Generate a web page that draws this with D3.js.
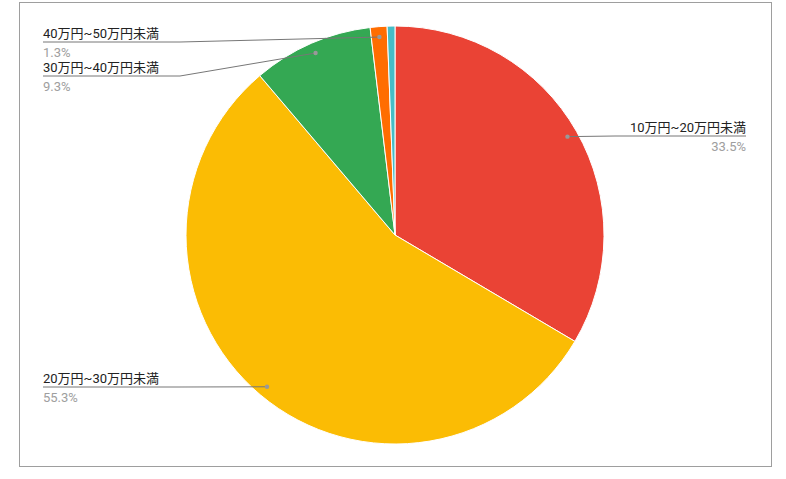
<!DOCTYPE html>
<meta charset="UTF-8">
<style>body{margin:0;background:#fff} *{font-family:Roboto,'Noto Sans CJK JP',sans-serif}</style>
<svg width="786" height="479"></svg>
<script src="https://d3js.org/d3.v7.min.js"></script>
<script>
var labels = ["10万円~20万円未満", "20万円~30万円未満", "30万円~40万円未満", "40万円~50万円未満", "50万円以上"];
var values = [33.5, 55.3, 9.3, 1.3, 0.6];
var colors = ["#ea4335", "#fbbc04", "#34a853", "#ff6d01", "#46bdc6"];
// label placement: side, text x, underline y, underline end x
var place = [
  {side: "right", x: 746, y: 136, x2: 615},
  {side: "left", x: 43, y: 387, x2: 180},
  {side: "left", x: 43, y: 76, x2: 180},
  {side: "left", x: 43, y: 42, x2: 180},
  null
];

var svg = d3.select("svg");
svg.append("rect").attr("x", 19.5).attr("y", 2.5).attr("width", 752).attr("height", 464)
  .attr("fill", "none").attr("stroke", "#9e9e9e");

var cx = 395, cy = 235, r = 209;
var g = svg.append("g").attr("transform", "translate(" + cx + "," + cy + ")");
var pie = d3.pie().sort(null).value(function(d) { return d; });
var arcs = pie(values);
var arc = d3.arc().innerRadius(0).outerRadius(r);
var dotArc = d3.arc().innerRadius(r * 0.95).outerRadius(r * 0.95);

g.selectAll("path").data(arcs).enter().append("path")
  .attr("d", arc).attr("fill", function(d, i) { return colors[i]; })
  .attr("stroke", "#fff").attr("stroke-width", 1);

arcs.forEach(function(d, i) {
  var p = place[i];
  if (!p) return;
  var c = dotArc.centroid(d);
  var dx = c[0] + cx, dy = c[1] + cy;
  var pts = p.side == "right"
    ? [[p.x, p.y], [p.x2, p.y], [dx, dy]]
    : [[p.x, p.y], [p.x2, p.y], [dx, dy]];
  svg.append("path").attr("d", d3.line()(pts)).attr("fill", "none")
    .attr("stroke", "#777").attr("stroke-width", 1);
  svg.append("circle").attr("cx", dx).attr("cy", dy).attr("r", 2.2).attr("fill", "#999");
  var anchor = p.side == "right" ? "end" : "start";
  svg.append("text").attr("x", p.x).attr("y", p.y - 4).attr("text-anchor", anchor)
    .attr("font-size", 13).attr("fill", "#222").text(labels[i]);
  svg.append("text").attr("x", p.x).attr("y", p.y + 15).attr("text-anchor", anchor)
    .attr("font-size", 13).attr("fill", "#9e9e9e").text(values[i].toFixed(1) + "%");
});
</script>
